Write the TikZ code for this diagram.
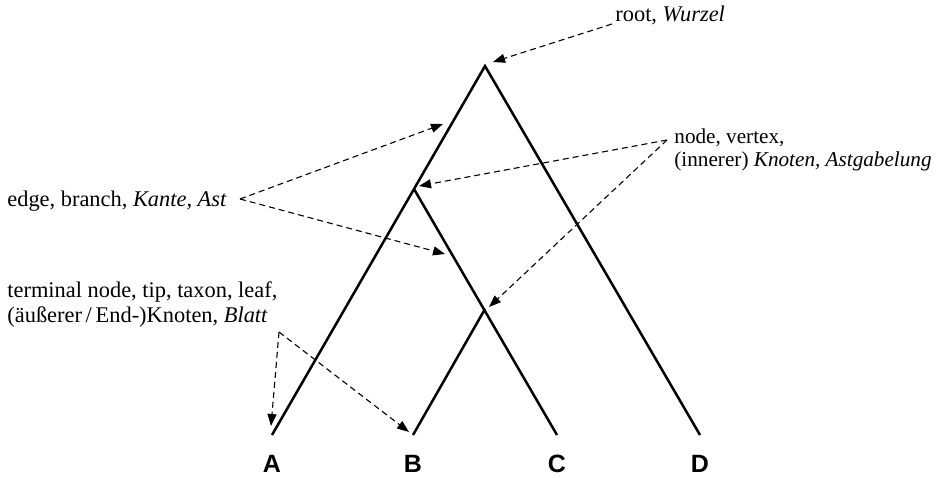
\documentclass[tikz,border=0pt]{standalone}
\usepackage{fontspec}
\setmainfont{Liberation Serif}
\newfontfamily\leaffont{Liberation Sans}
\usetikzlibrary{arrows.meta}
\tikzset{
  branch/.style={black, line width=1.25pt, line join=miter},
  pointer/.style={black, dash pattern=on 3pt off 2pt, line width=0.55pt, -{Triangle[length=6pt,width=4.5pt]}},
  lbltext/.style={inner sep=0pt, font=\fontsize{11.2}{12}\selectfont, align=left},
  leafname/.style={inner sep=0pt, font=\leaffont\bfseries\fontsize{12.5}{14}\selectfont}
}

\begin{document}
\begin{tikzpicture}[x=0.5pt, y=-0.5pt]
  \useasboundingbox (0,0) rectangle (940,477);
  % tree
  \coordinate (root) at (485,66);
  \coordinate (inner1) at (414,189);
  \coordinate (inner2) at (485,309);
  \coordinate (tipA) at (272,435);
  \coordinate (tipB) at (413,435);
  \coordinate (tipC) at (557,435);
  \coordinate (tipD) at (700,435);
  \draw[branch] (tipA) -- (root) -- (tipD);
  \draw[branch] (inner1) -- (tipC);
  \draw[branch] (inner2) -- (tipB);
  \node[leafname] (nameA) at (272,464) {A};
  \node[leafname] (nameB) at (413,464) {B};
  \node[leafname] (nameC) at (557,464) {C};
  \node[leafname] (nameD) at (700,464) {D};
  % labels
  \node[lbltext, anchor=west] (rootlbl) at (615,15) {root, \textit{Wurzel}};
  \node[lbltext, anchor=west] (edgelbl) at (7,201) {edge, branch, \textit{Kante, Ast}};
  \node[lbltext, anchor=north west, font=\fontsize{10.6}{11.5}\selectfont] (nodelbl) at (674,128) {node, vertex,\\(innerer) \textit{Knoten, Astgabelung}};
  \node[lbltext, anchor=north west, font=\fontsize{11.2}{12.5}\selectfont] (tiplbl) at (7,281) {terminal node, tip, taxon, leaf,\\(äußerer\,/\,End-)Knoten, \textit{Blatt}};
  % pointer ends
  \coordinate (roottail) at (612,24);
  \coordinate (roothead) at (493,62);
  \coordinate (edgetail) at (240,199);
  \coordinate (edgehead1) at (443,124);
  \coordinate (edgehead2) at (445,254);
  \coordinate (nodetail) at (667,140);
  \coordinate (nodehead1) at (419,186);
  \coordinate (nodehead2) at (489,307);
  \coordinate (tiptail) at (279,332);
  \coordinate (tiphead1) at (271,426);
  \coordinate (tiphead2) at (409,432);
  % pointers
  \draw[pointer] (roottail) -- (roothead);
  \draw[pointer] (edgetail) -- (edgehead1);
  \draw[pointer] (edgetail) -- (edgehead2);
  \draw[pointer] (nodetail) -- (nodehead1);
  \draw[pointer] (nodetail) -- (nodehead2);
  \draw[pointer] (tiptail) -- (tiphead1);
  \draw[pointer] (tiptail) -- (tiphead2);
\end{tikzpicture}
\end{document}
